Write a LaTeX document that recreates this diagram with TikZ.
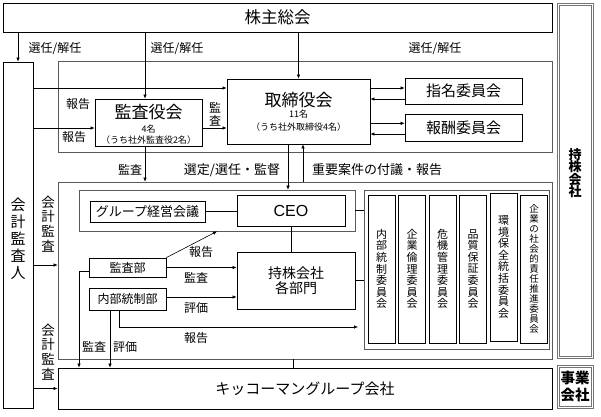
\documentclass[tikz,border=0pt]{standalone}
\usepackage{fontspec}
\newfontfamily\jp{Noto Sans CJK JP}
\newfontfamily\ar{Liberation Sans}
\usetikzlibrary{arrows.meta}
\begin{document}
\begin{tikzpicture}[x=1pt,y=-1pt,
  box/.style={draw=black, line width=0.8pt, inner sep=0pt, font=\jp},
  cont/.style={draw=black!65, line width=0.7pt, inner sep=0pt},
  dbl/.style={draw=black!55, line width=0.7pt, inner sep=0pt},
  arr/.style={-{Latex[length=4pt,width=3.5pt]}, line width=0.6pt},
  ln/.style={line width=0.6pt},
  lab/.style={font=\jp\fontsize{12pt}{12pt}\selectfont, inner sep=0pt},
  vlab/.style={font=\jp\fontsize{13.5pt}{14.7pt}\selectfont, inner sep=0pt, align=center},
  comtext/.style={font=\jp\fontsize{11pt}{11.6pt}\selectfont, align=center},
]
\useasboundingbox (0,0) rectangle (601,416);

% containers
\node[cont, minimum width=494pt, minimum height=91pt] (board) at (305,106.5) {};
\node[cont, minimum width=494pt, minimum height=177pt] (hq) at (305,270.5) {};
\node[cont, minimum width=276pt, minimum height=41pt] (ceogrp) at (217,210.5) {};
\node[cont, minimum width=185pt, minimum height=159pt] (comm) at (456.5,269.5) {};

% main boxes
\node[box, minimum width=549pt, minimum height=29pt, font=\jp\fontsize{16.5pt}{16.5pt}\selectfont] (kabu) at (277.5,17.5) {株主総会};
\node[dbl, minimum width=36pt, minimum height=355pt] (hold) at (575,180.5) {};
\node[dbl, minimum width=32pt, minimum height=351pt] (holdin) at (575,180.5) {};
\node[font=\jp\bfseries\fontsize{13pt}{12.5pt}\selectfont, align=center, inner sep=0pt] (holdt) at (575,173) {持\\株\\会\\社};
\node[dbl, minimum width=36pt, minimum height=43pt] (jigyo) at (575,386.5) {};
\node[dbl, minimum width=32pt, minimum height=39pt, align=center, font=\jp\bfseries\fontsize{14.5pt}{17pt}\selectfont] (jigyoin) at (575,386.5) {事業\\会社};

\node[box, minimum width=30pt, minimum height=346pt] (kaikei) at (18,235) {};
\node[font=\jp\fontsize{15pt}{17pt}\selectfont, align=center, inner sep=0pt] (kaikeit) at (18,238.5) {会\\計\\監\\査\\人};

\node[box, minimum width=107pt, minimum height=47pt] (kansayaku) at (148.5,122.5) {};
\node[font=\jp\fontsize{17pt}{17pt}\selectfont, inner sep=0pt] (kyt1) at (148.5,112.5) {監査役会};
\node[font=\jp\fontsize{9pt}{9pt}\selectfont, inner sep=0pt] (kyt2) at (148.5,129.5) {4名};
\node[font=\jp\fontsize{9pt}{9pt}\selectfont, inner sep=0pt] (kyt3) at (148.5,140) {（うち社外監査役2名）};

\node[box, minimum width=143pt, minimum height=65pt] (tori) at (298.5,111.5) {};
\node[font=\jp\fontsize{17pt}{17pt}\selectfont, inner sep=0pt] (tt1) at (298.5,100) {取締役会};
\node[font=\jp\fontsize{9pt}{9pt}\selectfont, inner sep=0pt] (tt2) at (298.5,114.5) {11名};
\node[font=\jp\fontsize{9pt}{9pt}\selectfont, inner sep=0pt] (tt3) at (298.5,127) {（うち社外取締役4名）};

\node[box, minimum width=117pt, minimum height=26pt, font=\jp\fontsize{15pt}{15pt}\selectfont] (shimei) at (463.5,91) {指名委員会};
\node[box, minimum width=117pt, minimum height=27pt, font=\jp\fontsize{15pt}{15pt}\selectfont] (hoshu) at (463.5,128) {報酬委員会};

\node[box, minimum width=115pt, minimum height=21pt, font=\jp\fontsize{13pt}{13pt}\selectfont] (group) at (147.5,211.5) {グループ経営会議};
\node[box, minimum width=108pt, minimum height=31pt, font=\ar\fontsize{16pt}{16pt}\selectfont] (ceo) at (291,210.5) {CEO};
\node[box, minimum width=118pt, minimum height=57pt, align=center, font=\jp\fontsize{14pt}{15.5pt}\selectfont] (depts) at (296,280.5) {持株会社\\各部門};
\node[box, minimum width=77pt, minimum height=19pt, font=\jp\fontsize{12pt}{12pt}\selectfont] (kansabu) at (127.5,267.5) {監査部};
\node[box, minimum width=77pt, minimum height=22pt, font=\jp\fontsize{12pt}{12pt}\selectfont] (naibu) at (127.5,299) {内部統制部};

\node[box, minimum width=27pt, minimum height=148pt, comtext] (c1) at (381.5,269) {内\\部\\統\\制\\委\\員\\会};
\node[box, minimum width=27pt, minimum height=148pt, comtext] (c2) at (412,269) {企\\業\\倫\\理\\委\\員\\会};
\node[box, minimum width=27pt, minimum height=148pt, comtext] (c3) at (442.5,269) {危\\機\\管\\理\\委\\員\\会};
\node[box, minimum width=27pt, minimum height=148pt, comtext] (c4) at (473,269) {品\\質\\保\\証\\委\\員\\会};
\node[box, minimum width=27pt, minimum height=148pt, comtext] (c5) at (503.5,267) {環\\境\\保\\全\\統\\括\\委\\員\\会};
\node[box, minimum width=27pt, minimum height=148pt, comtext, font=\jp\fontsize{9.5pt}{10pt}\selectfont] (c6) at (534,269) {企\\業\\の\\社\\会\\的\\責\\任\\推\\進\\委\\員\\会};

\node[box, minimum width=494pt, minimum height=41pt, font=\jp\fontsize{15pt}{15pt}\selectfont] (kik) at (305,388.5) {キッコーマングループ会社};

% connectors from shareholders
\coordinate (kaT) at ([xshift=-3.5pt]kansayaku.north);
\draw[arr] (kabu.south -| kaikei.north) -- (kaikei.north);
\draw[arr] (kabu.south -| kaT) -- (kaT);
\draw[arr] (kabu.south -| tori.north) -- (tori.north);
\node[lab] (l1) at (55,49) {選任/解任};
\node[lab] (l2) at (177,49) {選任/解任};
\node[lab] (l3) at (435,49) {選任/解任};

% auditor reports
\coordinate (toW1) at ([yshift=23.5pt]tori.west);
\draw[arr] (kaikei.east |- toW1) -- (toW1);
\coordinate (kaW) at ([yshift=-5.5pt]kansayaku.west);
\draw[arr] (kaikei.east |- kaW) -- (kaW);
\node[lab] (l4) at (78,104) {報告};
\node[lab] (l5) at (74,137) {報告};
\coordinate (toW2) at ([yshift=-16.5pt]tori.west);
\draw[arr] (kansayaku.east |- toW2) -- (toW2);
\node[lab, align=center, font=\jp\fontsize{12pt}{13pt}\selectfont] (l6) at (215,114) {監\\査};

% committees
\coordinate (shA) at ([yshift=3pt]shimei.west);
\draw[arr] (tori.east |- shA) -- (shA);
\coordinate (shB) at ([yshift=-8pt]shimei.west);
\draw[arr] (shB) -- (tori.east |- shB);
\coordinate (hoA) at ([yshift=4.7pt]hoshu.west);
\draw[arr] (tori.east |- hoA) -- (hoA);
\coordinate (hoB) at ([yshift=-6pt]hoshu.west);
\draw[arr] (hoB) -- (tori.east |- hoB);

% board to holding
\coordinate (kaB) at ([xshift=-3.5pt]kansayaku.south);
\draw[arr] (kaB) -- (kaB |- hq.north);
\node[lab] (l7) at (130,170) {監査};
\coordinate (toB1) at ([xshift=-10.5pt]tori.south);
\draw[arr] (toB1) -- (toB1 |- ceogrp.north);
\coordinate (toB2) at ([xshift=4.5pt]tori.south);
\draw[arr] (toB2 |- hq.north) -- (toB2);
\node[lab, font=\jp\fontsize{13pt}{13pt}\selectfont] (l8) at (232,170) {選定/選任・監督};
\node[lab, font=\jp\fontsize{13pt}{13pt}\selectfont] (l9) at (377,170) {重要案件の付議・報告};

% inside holding
\draw[ln] (group.east) -- (group.east -| ceo.west);
\draw[ln] (ceogrp.east) -- (ceogrp.east -| comm.west);
\draw[ln] (ceo.south) -- (ceo.south |- depts.north);
\draw[ln] (depts.east) -- (depts.east -| comm.west);
\draw[arr] (kansabu.north east) -- (ceogrp.south);
\node[lab] (l10) at (201,252) {報告};
\draw[arr] (kansabu.east) -- (kansabu.east -| depts.west);
\node[lab] (l11) at (196,278) {監査};
\coordinate (nbE) at ([yshift=2pt]naibu.east);
\draw[arr] (nbE) -- (nbE -| depts.west);
\node[lab] (l12) at (196,308) {評価};
\coordinate (rep) at (358,327);
\draw[arr] ([xshift=-8.5pt]naibu.south) |- (rep);
\node[lab] (l13) at (196,338) {報告};

% to group companies
\coordinate (kbW) at ([yshift=-4pt]kansabu.west);
\coordinate (kikA) at ([xshift=-226pt]kik.north);
\draw[arr] (kbW) -| (kikA);
\coordinate (nbS) at ([xshift=-17.5pt]naibu.south);
\draw[arr] (nbS) -- (nbS |- kik.north);
\node[lab] (l14) at (94,347) {監査};
\node[lab] (l15) at (125,347) {評価};
\coordinate (hqS) at ([xshift=-12pt]hq.south);
\draw[ln] (hqS) -- (hqS |- kik.north);

% accounting audit
\coordinate (hqW) at ([yshift=5.5pt]hq.west);
\draw[arr] (kaikei.east |- hqW) -- (hqW);
\node[vlab] (l16) at (48,224) {会\\計\\監\\査};
\draw[arr] (kaikei.east |- kik.west) -- (kik.west);
\node[vlab] (l17) at (48,352) {会\\計\\監\\査};
\end{tikzpicture}
\end{document}
